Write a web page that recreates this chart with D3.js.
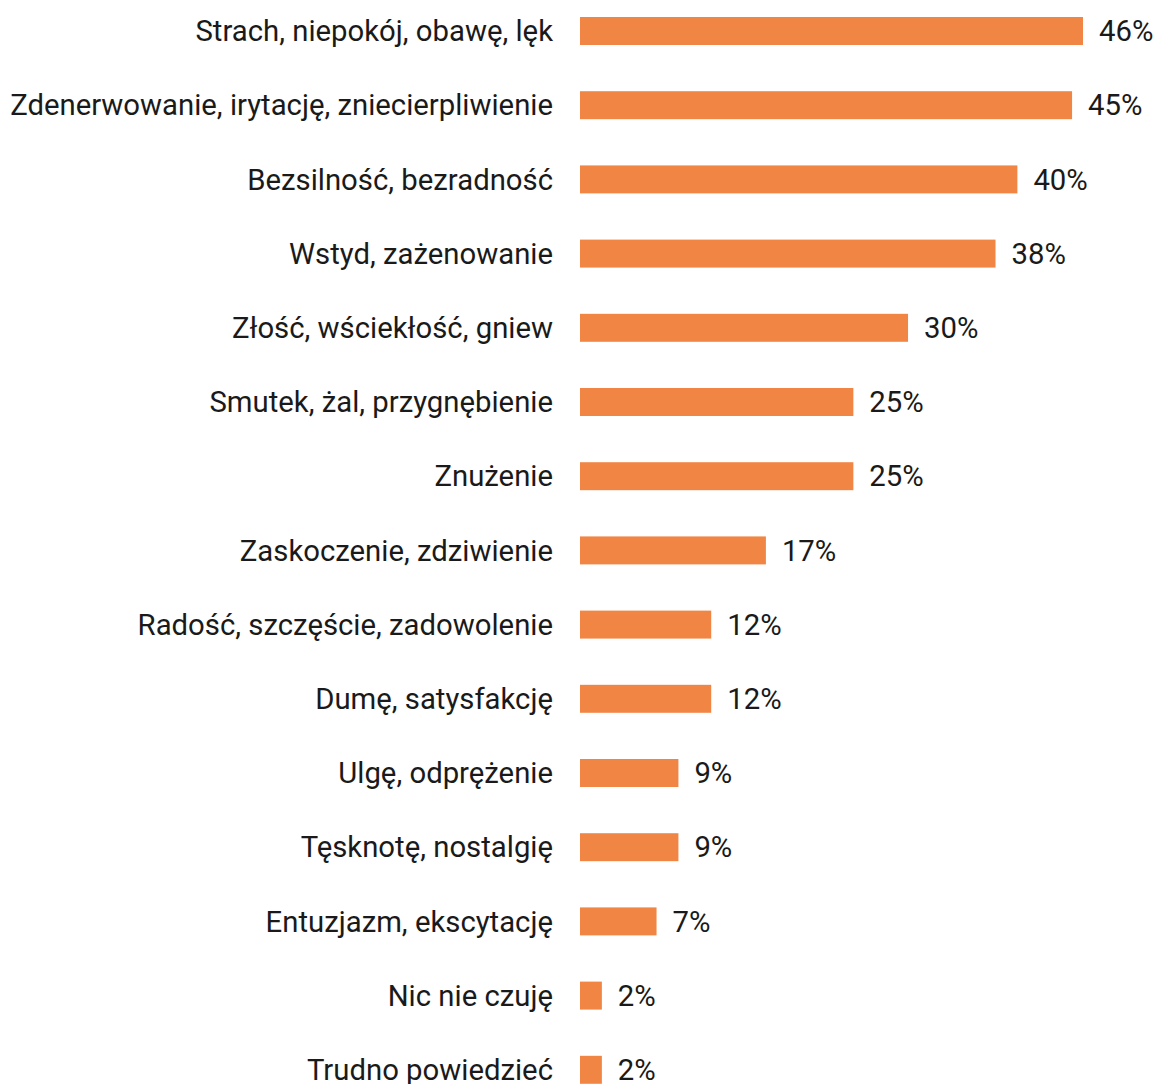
<!DOCTYPE html>
<meta charset="utf-8">
<head>
    <script src="https://cdn.jsdelivr.net/npm/d3@7"></script>
    <style>
        body { margin: 0; background: #fff; }
        text { font-family: Roboto, "Noto Sans", sans-serif; fill: #1a1a1a; }
    </style>
</head>
<body>
<script>
    var categories = [
        "Strach, niepokój, obawę, lęk",
        "Zdenerwowanie, irytację, zniecierpliwienie",
        "Bezsilność, bezradność",
        "Wstyd, zażenowanie",
        "Złość, wściekłość, gniew",
        "Smutek, żal, przygnębienie",
        "Znużenie",
        "Zaskoczenie, zdziwienie",
        "Radość, szczęście, zadowolenie",
        "Dumę, satysfakcję",
        "Ulgę, odprężenie",
        "Tęsknotę, nostalgię",
        "Entuzjazm, ekscytację",
        "Nic nie czuję",
        "Trudno powiedzieć"
    ];
    var values = [46, 45, 40, 38, 30, 25, 25, 17, 12, 12, 9, 9, 7, 2, 2];

    var width = 1156, height = 1084;

    var svg = d3.select("body").append("svg")
        .attr("width", width)
        .attr("height", height);

    // bars start at 580, 46% ends near 1083
    var x = d3.scaleLinear().domain([0, 46]).range([580, 1083]);

    var y = d3.scaleBand()
        .domain(categories)
        .range([-6.1, 1106.9])
        .paddingInner(0.623)
        .paddingOuter(0.3115);

    var rows = svg.selectAll("g.row")
        .data(categories)
        .enter().append("g")
        .attr("class", "row");

    rows.append("rect")
        .attr("x", x(0))
        .attr("y", d => y(d))
        .attr("width", (d, i) => x(values[i]) - x(0))
        .attr("height", y.bandwidth())
        .attr("fill", "#f08544");

    rows.append("text")
        .attr("x", x(0) - 27)
        .attr("y", d => y(d) + y.bandwidth() / 2)
        .attr("dy", "0.35em")
        .attr("text-anchor", "end")
        .style("font-size", "29.3px")
        .text(d => d);

    rows.append("text")
        .attr("x", (d, i) => x(values[i]) + 16)
        .attr("y", d => y(d) + y.bandwidth() / 2)
        .attr("dy", "0.35em")
        .style("font-size", "29.3px")
        .text((d, i) => values[i] + "%");
</script>
</body>
